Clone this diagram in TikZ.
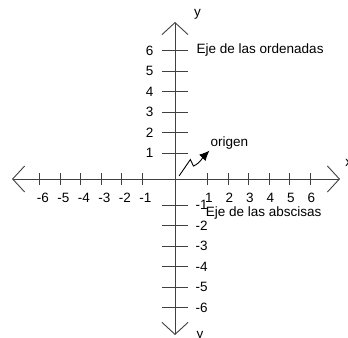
\documentclass[tikz,border=0pt]{standalone}
\usepackage{fontspec}
\setmainfont{Liberation Sans}
\usetikzlibrary{arrows.meta}
\tikzset{
  axisline/.style={line width=0.9bp, black!75, {Straight Barb[length=12bp,width=26bp]}-{Straight Barb[length=12bp,width=26bp]}},
  tickline/.style={line width=0.9bp, black!75},
  lbl/.style={font=\fontsize{13.5bp}{15bp}\selectfont, inner sep=1bp}
}
\begin{document}
\begin{tikzpicture}[x=20.5bp, y=20.5bp]
    \useasboundingbox (-8.537,-7.756) rectangle (8.439,8.732);

    % Draw the x-axis
    \coordinate (xl) at (-7.95,0);
    \coordinate (xr) at (8.05,0);
    \draw[axisline] (xl) -- (xr);
    \node[lbl, anchor=west, inner sep=0] (xlab) at (8.3,0.78) {x};

    % Draw the y-axis
    \coordinate (yb) at (0,-7.61);
    \coordinate (yt) at (0,7.66);
    \draw[axisline] (yb) -- (yt);
    \node[lbl] (ylab) at (1.1,8.02) {y};
    \node[lbl, anchor=base] (ylabb) at (1.22,-7.8) {y};

    % Ticks and numbers on the x-axis
    \foreach \k in {1,...,6} {
        \draw[tickline] (\k+0.6,-0.29) -- (\k+0.6,0.29);
        \draw[tickline] (-\k-0.6,-0.29) -- (-\k-0.6,0.29);
        \node[lbl] (xp\k) at (\k+0.65,-0.93) {\k};
        \node[lbl] (xn\k) at (-\k-0.45,-0.93) {-\k};
    }

    % Ticks and numbers on the y-axis
    \foreach \k in {1,...,6} {
        \draw[tickline] (-0.63,\k+0.27) -- (0.63,\k+0.27);
        \draw[tickline] (-0.63,-\k-0.27) -- (0.63,-\k-0.27);
        \node[lbl, anchor=east] (yp\k) at (-1.0,\k+0.27) {\k};
        \node[lbl, anchor=west] (yn\k) at (0.95,-\k-0.27) {-\k};
    }

    % Names of the axes
    \node[lbl, anchor=west] (ord) at (1.0,6.29) {Eje de las ordenadas};
    \node[lbl, anchor=west] (abs) at (1.45,-1.66) {Eje de las abscisas};

    % Zigzag arrow pointing to the origin label
    \node[lbl, anchor=west] (orig) at (1.68,1.75) {origen};
    \coordinate (o) at (0.2,0.15);
    \draw[line width=0.9bp, -{Latex[length=10bp,width=9bp]}] (o) -- (0.75,0.95) -- (0.9,0.63)
        .. controls (1.25,0.8) and (1.35,1.05) .. (orig.south west);
\end{tikzpicture}
\end{document}
